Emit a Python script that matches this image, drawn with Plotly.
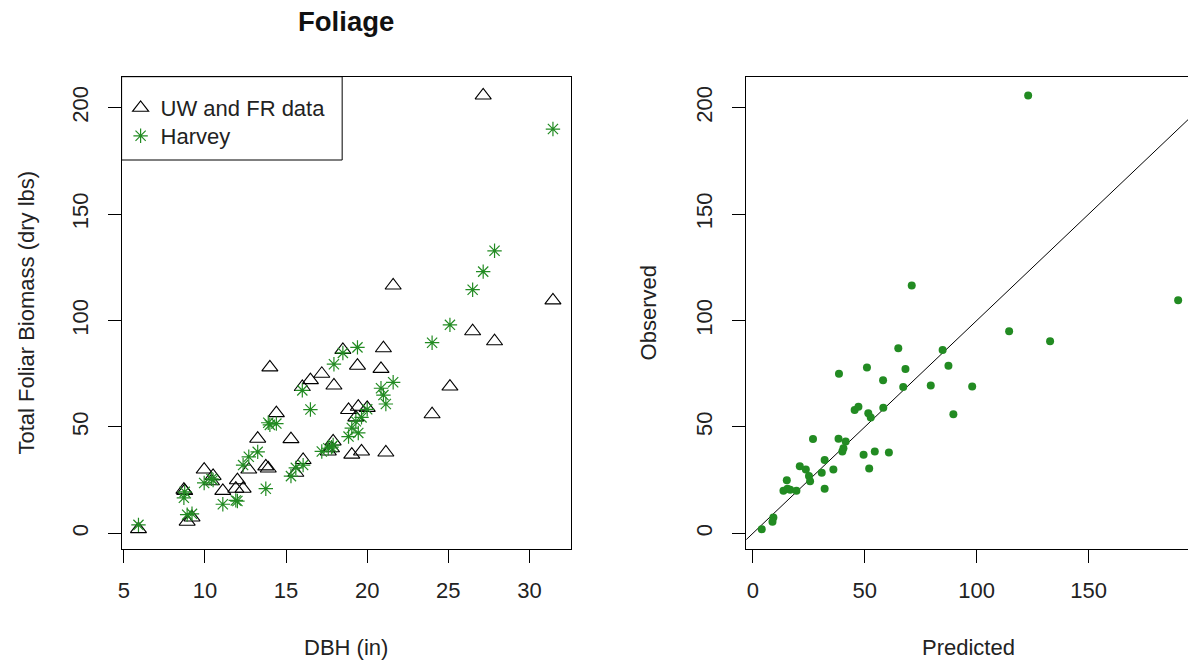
import plotly.graph_objects as go

# ---------------- data (one entry per tree) ----------------
dbh = [5.9, 8.9, 9.2, 11.1, 11.9, 12.0, 8.7, 8.75, 13.75, 9.95,
       10.5, 10.4, 15.3, 15.6, 12.35, 16.05, 12.7, 13.25, 17.2, 17.6,
       17.8, 17.9, 18.85, 19.45, 19.05, 14.0, 14.4, 19.3, 13.9, 19.65,
       20.0, 16.5, 21.15, 21.0, 16.0, 20.85, 21.6, 17.95, 18.5, 19.4,
       24.0, 25.1, 27.15, 26.5, 27.85, 31.45]
observed = [2.0, 5.5, 7.5, 20.0, 21.0, 25.0, 20.5, 20.0, 31.5, 30.0,
            27.0, 24.5, 44.3, 28.5, 21.0, 34.5, 30.0, 44.5, 75.0, 38.5,
            40.0, 43.2, 58.0, 59.5, 37.0, 78.0, 56.5, 54.5, 30.5, 38.5,
            59.0, 72.0, 38.0, 87.0, 68.8, 77.3, 116.5, 69.5, 86.2, 78.8,
            56.0, 69.0, 205.8, 95.0, 90.3, 109.5]
predicted = [4.0, 8.8, 9.2, 13.7, 15.5, 15.2, 16.7, 19.5, 21.0, 23.7,
             25.1, 25.6, 26.9, 30.8, 32.1, 32.1, 36.0, 38.3, 38.5, 40.0,
             40.5, 41.5, 45.5, 47.2, 49.5, 51.0, 51.6, 52.7, 52.0, 54.5,
             58.3, 58.2, 60.8, 65.0, 67.2, 68.2, 71.0, 79.5, 84.8, 87.4,
             89.6, 98.0, 123.0, 114.5, 132.8, 190.0]

series_names = ["UW and FR data", "Harvey"]
title_text = "Foliage"
left_xlabel = "DBH (in)"
left_ylabel = "Total Foliar Biomass (dry lbs)"
right_xlabel = "Predicted"
right_ylabel = "Observed"
left_xticks = [5, 10, 15, 20, 25, 30]
y_ticks = [0, 50, 100, 150, 200]
right_xticks = [0, 50, 100, 150]
ab_intercept, ab_slope = 0.0, 1.0

# ---------------- layout geometry ----------------
W, H = 1188, 662
GREEN = "#228B22"
FONT = "Liberation Sans, Arial, sans-serif"

def px(x):
    return x / W

def py(y):
    return 1 - y / H

L_X0, L_X1 = 118, 568.7
R_X0, R_X1 = 744.7, 1188
P_Y0, P_Y1 = 76.7, 548.5

left_xrange = [4.86, 32.55]
right_xrange = [-2.94, 194.4]
yrange = [-7.1, 214.6]

fig = go.Figure()

fig.add_trace(go.Scatter(
    x=dbh, y=observed, mode="markers", name=series_names[0],
    marker=dict(symbol="triangle-up-open", size=14, color="black",
                line=dict(width=1.1, color="black")),
    xaxis="x", yaxis="y", legend="legend"))
fig.add_trace(go.Scatter(
    x=dbh, y=predicted, mode="markers", name=series_names[1],
    marker=dict(symbol="asterisk-open", size=12, color=GREEN,
                line=dict(width=1.2, color=GREEN)),
    xaxis="x", yaxis="y", legend="legend2"))

line_x = right_xrange
line_y = [ab_intercept + ab_slope * v for v in line_x]
fig.add_trace(go.Scatter(
    x=line_x, y=line_y, mode="lines", showlegend=False,
    line=dict(color="black", width=1), xaxis="x2", yaxis="y2"))
fig.add_trace(go.Scatter(
    x=predicted, y=observed, mode="markers", showlegend=False,
    marker=dict(symbol="circle", size=8, color=GREEN),
    xaxis="x2", yaxis="y2"))

axis_common = dict(
    showgrid=False, zeroline=False, showline=True, linecolor="black",
    linewidth=1, ticks="outside", ticklen=13, tickwidth=1,
    tickcolor="black", tickfont=dict(family=FONT, size=22, color="#222"),
)

legend_common = dict(xanchor="left", yanchor="middle",
                     bgcolor="rgba(0,0,0,0)", borderwidth=0,
                     font=dict(family=FONT, size=22, color="#222"),
                     itemwidth=30)

fig.update_layout(
    width=W, height=H,
    margin=dict(l=0, r=0, t=0, b=0),
    paper_bgcolor="white", plot_bgcolor="white",
    font=dict(family=FONT, size=22, color="#222"),
    xaxis=dict(domain=[px(L_X0), px(L_X1)], range=left_xrange,
               tickvals=left_xticks, anchor="y", mirror=True,
               ticklabelstandoff=9, **axis_common),
    yaxis=dict(domain=[py(P_Y1), py(P_Y0)], range=yrange,
               tickvals=y_ticks, anchor="x", mirror=True, tickangle=-90,
               ticklabelstandoff=11, **axis_common),
    xaxis2=dict(domain=[px(R_X0), px(R_X1)], range=right_xrange,
                tickvals=right_xticks, anchor="y2", mirror=True,
                ticklabelstandoff=9, **axis_common),
    yaxis2=dict(domain=[py(P_Y1), py(P_Y0)], range=yrange,
                tickvals=y_ticks, anchor="x2", mirror=False, tickangle=-90,
                ticklabelstandoff=11, **axis_common),
    showlegend=True,
    legend=dict(x=px(L_X0 - 1), y=py(108), **legend_common),
    legend2=dict(x=px(L_X0 - 1), y=py(136), **legend_common),
    shapes=[dict(type="rect", xref="paper", yref="paper",
                 x0=px(L_X0), x1=px(339.3), y0=py(160), y1=py(P_Y0),
                 line=dict(color="black", width=1))],
    annotations=[
        dict(text="<b>" + title_text + "</b>", xref="paper", yref="paper",
             x=px(343), y=py(21), xanchor="center", yanchor="middle",
             showarrow=False, font=dict(family=FONT, size=27.5, color="#111")),
        dict(text=left_xlabel, xref="paper", yref="paper",
             x=px((L_X0 + L_X1) / 2), y=py(647), xanchor="center",
             yanchor="middle", showarrow=False),
        dict(text=left_ylabel, xref="paper", yref="paper",
             x=px(23), y=py((P_Y0 + P_Y1) / 2), xanchor="center",
             yanchor="middle", textangle=-90, showarrow=False),
        dict(text=right_xlabel, xref="paper", yref="paper",
             x=px(968), y=py(647), xanchor="center",
             yanchor="middle", showarrow=False),
        dict(text=right_ylabel, xref="paper", yref="paper",
             x=px(647), y=py((P_Y0 + P_Y1) / 2), xanchor="center",
             yanchor="middle", textangle=-90, showarrow=False),
    ],
)

fig.write_html("out.html", config={"displayModeBar": False})

# remove the browser's default page margin so the figure fills the window
with open("out.html", "r", encoding="utf-8") as f:
    html = f.read()
html = html.replace("<body>", '<body style="margin:0;padding:0;overflow:hidden">', 1)
html = html.replace("<head>", '<head><style>html,body{margin:0;padding:0;overflow:hidden}</style>', 1)
with open("out.html", "w", encoding="utf-8") as f:
    f.write(html)
